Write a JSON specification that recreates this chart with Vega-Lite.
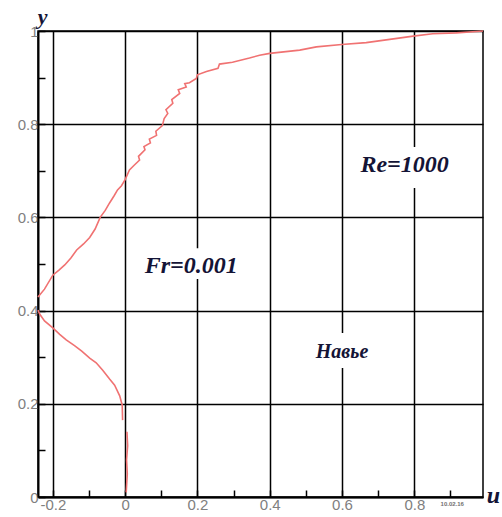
{
  "$schema": "https://vega.github.io/schema/vega-lite/v6.json",
  "width": 445,
  "height": 466,
  "autosize": "none",
  "padding": {"left": 38, "top": 31, "right": 19, "bottom": 20},
  "background": "white",
  "config": {
    "view": {"stroke": "black", "strokeWidth": 1.5},
    "axis": {
      "domainColor": "black",
      "domainWidth": 2,
      "tickColor": "black",
      "tickWidth": 1.5,
      "tickSize": -7,
      "gridColor": "black",
      "gridWidth": 1.5,
      "labelFont": "Liberation Sans",
      "labelFontSize": 15,
      "labelColor": "#808080",
      "labelPadding": 7
    }
  },
  "datasets": {
    "curve": [
      {"i": 1, "s": "A", "u": 0.003, "y": 0.01},
      {"i": 2, "s": "A", "u": 0.006, "y": 0.05},
      {"i": 3, "s": "A", "u": 0.004, "y": 0.08},
      {"i": 4, "s": "A", "u": 0.007, "y": 0.11},
      {"i": 5, "s": "A", "u": 0.005, "y": 0.14},
      {"i": 10, "s": "B", "u": -0.007, "y": 0.165},
      {"i": 11, "s": "B", "u": -0.008, "y": 0.197},
      {"i": 12, "s": "B", "u": -0.015, "y": 0.217},
      {"i": 13, "s": "B", "u": -0.029, "y": 0.24},
      {"i": 14, "s": "B", "u": -0.043, "y": 0.253},
      {"i": 15, "s": "B", "u": -0.062, "y": 0.272},
      {"i": 16, "s": "B", "u": -0.08, "y": 0.288},
      {"i": 17, "s": "B", "u": -0.098, "y": 0.298},
      {"i": 18, "s": "B", "u": -0.12, "y": 0.313},
      {"i": 19, "s": "B", "u": -0.14, "y": 0.325},
      {"i": 20, "s": "B", "u": -0.163, "y": 0.337},
      {"i": 21, "s": "B", "u": -0.181, "y": 0.349},
      {"i": 22, "s": "B", "u": -0.2, "y": 0.363},
      {"i": 23, "s": "B", "u": -0.223, "y": 0.378},
      {"i": 24, "s": "B", "u": -0.236, "y": 0.392},
      {"i": 25, "s": "B", "u": -0.241, "y": 0.401},
      {"i": 30, "s": "C", "u": -0.241, "y": 0.429},
      {"i": 31, "s": "C", "u": -0.223, "y": 0.446},
      {"i": 32, "s": "C", "u": -0.2, "y": 0.476},
      {"i": 33, "s": "C", "u": -0.183, "y": 0.487},
      {"i": 34, "s": "C", "u": -0.167, "y": 0.498},
      {"i": 35, "s": "C", "u": -0.15, "y": 0.513},
      {"i": 36, "s": "C", "u": -0.134, "y": 0.53},
      {"i": 37, "s": "C", "u": -0.115, "y": 0.543},
      {"i": 38, "s": "C", "u": -0.098, "y": 0.557},
      {"i": 39, "s": "C", "u": -0.083, "y": 0.575},
      {"i": 40, "s": "C", "u": -0.069, "y": 0.6},
      {"i": 41, "s": "C", "u": -0.055, "y": 0.615},
      {"i": 42, "s": "C", "u": -0.043, "y": 0.631},
      {"i": 43, "s": "C", "u": -0.03, "y": 0.647},
      {"i": 44, "s": "C", "u": -0.021, "y": 0.659},
      {"i": 45, "s": "C", "u": -0.01, "y": 0.668},
      {"i": 46, "s": "C", "u": 0.0, "y": 0.681},
      {"i": 47, "s": "C", "u": 0.012, "y": 0.702},
      {"i": 48, "s": "C", "u": 0.025, "y": 0.712},
      {"i": 49, "s": "C", "u": 0.04, "y": 0.723},
      {"i": 50, "s": "C", "u": 0.037, "y": 0.731},
      {"i": 51, "s": "C", "u": 0.055, "y": 0.745},
      {"i": 52, "s": "C", "u": 0.052, "y": 0.752},
      {"i": 53, "s": "C", "u": 0.07, "y": 0.76},
      {"i": 54, "s": "C", "u": 0.067, "y": 0.768},
      {"i": 55, "s": "C", "u": 0.087, "y": 0.776},
      {"i": 56, "s": "C", "u": 0.085, "y": 0.785},
      {"i": 57, "s": "C", "u": 0.103, "y": 0.797},
      {"i": 58, "s": "C", "u": 0.108, "y": 0.812},
      {"i": 59, "s": "C", "u": 0.118, "y": 0.823},
      {"i": 60, "s": "C", "u": 0.113, "y": 0.831},
      {"i": 61, "s": "C", "u": 0.132, "y": 0.845},
      {"i": 62, "s": "C", "u": 0.129, "y": 0.853},
      {"i": 63, "s": "C", "u": 0.151, "y": 0.866},
      {"i": 64, "s": "C", "u": 0.147, "y": 0.874},
      {"i": 65, "s": "C", "u": 0.169, "y": 0.88},
      {"i": 66, "s": "C", "u": 0.165, "y": 0.887},
      {"i": 67, "s": "C", "u": 0.178, "y": 0.889},
      {"i": 68, "s": "C", "u": 0.197, "y": 0.898},
      {"i": 69, "s": "C", "u": 0.2, "y": 0.906},
      {"i": 70, "s": "C", "u": 0.225, "y": 0.913},
      {"i": 71, "s": "C", "u": 0.257, "y": 0.92},
      {"i": 72, "s": "C", "u": 0.261, "y": 0.929},
      {"i": 73, "s": "C", "u": 0.297, "y": 0.933},
      {"i": 74, "s": "C", "u": 0.344, "y": 0.942},
      {"i": 75, "s": "C", "u": 0.372, "y": 0.948},
      {"i": 76, "s": "C", "u": 0.4, "y": 0.952},
      {"i": 77, "s": "C", "u": 0.483, "y": 0.959},
      {"i": 78, "s": "C", "u": 0.529, "y": 0.966},
      {"i": 79, "s": "C", "u": 0.599, "y": 0.971},
      {"i": 80, "s": "C", "u": 0.667, "y": 0.975},
      {"i": 81, "s": "C", "u": 0.732, "y": 0.982},
      {"i": 82, "s": "C", "u": 0.797, "y": 0.989},
      {"i": 83, "s": "C", "u": 0.851, "y": 0.994},
      {"i": 84, "s": "C", "u": 0.916, "y": 0.996},
      {"i": 85, "s": "C", "u": 0.972, "y": 0.999},
      {"i": 86, "s": "C", "u": 0.99, "y": 1.0}
    ],
    "boxes": [
      {"u1": 0.635, "u2": 0.92, "y1": 0.663, "y2": 0.751},
      {"u1": 0.048, "u2": 0.317, "y1": 0.468, "y2": 0.534},
      {"u1": 0.51, "u2": 0.69, "y1": 0.277, "y2": 0.352}
    ],
    "bigLabels": [
      {"label": "Re=1000", "u": 0.773, "y": 0.712},
      {"label": "Fr=0.001", "u": 0.183, "y": 0.495}
    ],
    "smallLabels": [
      {"label": "Навье", "u": 0.6, "y": 0.312}
    ],
    "dateLabel": [
      {"label": "10.02.16", "u": 0.905, "y": -0.016}
    ]
  },
  "layer": [
    {
      "data": {"name": "curve"},
      "mark": {"type": "line", "color": "#f07272", "strokeWidth": 1.6},
      "encoding": {
        "x": {
          "field": "u", "type": "quantitative",
          "scale": {"domain": [-0.241, 0.99], "nice": false, "zero": false},
          "axis": {
            "title": "u",
            "titleFont": "Liberation Serif",
            "titleFontStyle": "italic",
            "titleFontWeight": "bold",
            "titleFontSize": 24,
            "titleColor": "#141436",
            "titleAlign": "center",
            "titleBaseline": "middle",
            "titleX": 455,
            "titleY": -2,
            "values": [-0.2, -0.15, -0.1, -0.05, 0, 0.05, 0.1, 0.15, 0.2, 0.25, 0.3, 0.35, 0.4, 0.45, 0.5, 0.55, 0.6, 0.65, 0.7, 0.75, 0.8, 0.85, 0.9, 0.95],
            "labelExpr": "abs(round(datum.value*20)) % 4 == 0 ? replace(format(datum.value, '.1~f'), '\u2212', '-') : ''",
            "gridOpacity": {"condition": {"test": "abs(round(datum.value*20)) % 4 == 0", "value": 1}, "value": 0},
            "labelFlush": false,
            "labelOverlap": false
          }
        },
        "y": {
          "field": "y", "type": "quantitative",
          "scale": {"domain": [0, 1], "nice": false},
          "axis": {
            "title": "y",
            "titleFont": "Liberation Serif",
            "titleFontStyle": "italic",
            "titleFontWeight": "bold",
            "titleFontSize": 22,
            "titleColor": "#141436",
            "titleAngle": 0,
            "titleAlign": "center",
            "titleBaseline": "middle",
            "titleX": 4,
            "titleY": -15,
            "values": [0, 0.05, 0.1, 0.15, 0.2, 0.25, 0.3, 0.35, 0.4, 0.45, 0.5, 0.55, 0.6, 0.65, 0.7, 0.75, 0.8, 0.85, 0.9, 0.95, 1],
            "labelExpr": "abs(round(datum.value*20)) % 4 == 0 ? format(datum.value, '.1~f') : ''",
            "gridOpacity": {"condition": {"test": "abs(round(datum.value*20)) % 4 == 0", "value": 1}, "value": 0},
            "labelFlush": false,
            "labelOverlap": false
          }
        },
        "detail": {"field": "s"},
        "order": {"field": "i"}
      }
    },
    {
      "data": {"name": "boxes"},
      "mark": {"type": "rect", "color": "white"},
      "encoding": {
        "x": {"field": "u1", "type": "quantitative"},
        "x2": {"field": "u2"},
        "y": {"field": "y1", "type": "quantitative"},
        "y2": {"field": "y2"}
      }
    },
    {
      "data": {"name": "bigLabels"},
      "mark": {"type": "text", "font": "Liberation Serif", "fontStyle": "italic", "fontWeight": "bold", "fontSize": 24, "color": "#141436", "align": "center", "baseline": "middle"},
      "encoding": {
        "x": {"field": "u", "type": "quantitative"},
        "y": {"field": "y", "type": "quantitative"},
        "text": {"field": "label"}
      }
    },
    {
      "data": {"name": "smallLabels"},
      "mark": {"type": "text", "font": "Liberation Serif", "fontStyle": "italic", "fontWeight": "bold", "fontSize": 20, "color": "#141436", "align": "center", "baseline": "middle"},
      "encoding": {
        "x": {"field": "u", "type": "quantitative"},
        "y": {"field": "y", "type": "quantitative"},
        "text": {"field": "label"}
      }
    },
    {
      "data": {"name": "dateLabel"},
      "mark": {"type": "text", "font": "Liberation Sans", "fontSize": 6, "fontWeight": "bold", "color": "#707070", "align": "center", "baseline": "middle"},
      "encoding": {
        "x": {"field": "u", "type": "quantitative"},
        "y": {"field": "y", "type": "quantitative"},
        "text": {"field": "label"}
      }
    }
  ]
}
